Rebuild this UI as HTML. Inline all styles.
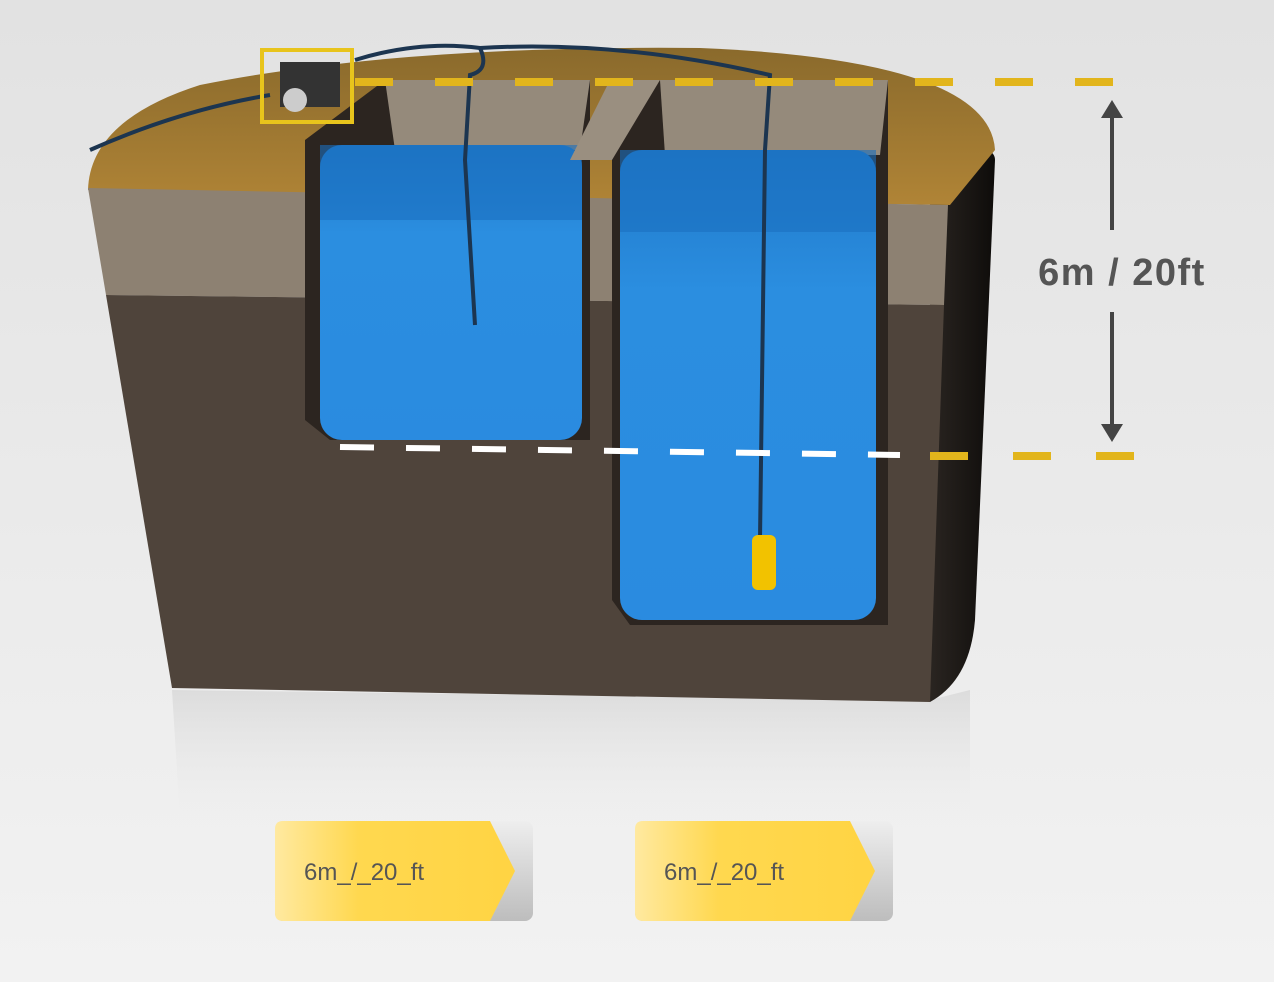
<!DOCTYPE html>
<html><head><meta charset="utf-8"><style>
html,body{margin:0;padding:0;width:1274px;height:982px;overflow:hidden;background:#ececec;font-family:"Liberation Sans",sans-serif}
</style></head><body>
<svg width="1274" height="982" viewBox="0 0 1274 982" xmlns="http://www.w3.org/2000/svg">
<defs>
<linearGradient id="bg" x1="0" y1="0" x2="0" y2="1"><stop offset="0" stop-color="#e2e2e2"/><stop offset="1" stop-color="#f2f2f2"/></linearGradient>
<linearGradient id="side" x1="0" y1="0" x2="1" y2="0"><stop offset="0" stop-color="#2a2521"/><stop offset="1" stop-color="#0e0c0a"/></linearGradient>
<linearGradient id="top" x1="0" y1="0" x2="0" y2="1"><stop offset="0" stop-color="#8a6a2c"/><stop offset="1" stop-color="#b08436"/></linearGradient>
<linearGradient id="water" x1="0" y1="0" x2="0" y2="1"><stop offset="0" stop-color="#1f78c8"/><stop offset="0.3" stop-color="#2b8ee0"/><stop offset="1" stop-color="#2a8be0"/></linearGradient>
<linearGradient id="btn" x1="0" y1="0" x2="1" y2="0"><stop offset="0" stop-color="#ffe9a0"/><stop offset="0.35" stop-color="#ffd84f"/><stop offset="1" stop-color="#ffd443"/></linearGradient>
<linearGradient id="tail" x1="0" y1="0" x2="0" y2="1"><stop offset="0" stop-color="#eeeeee"/><stop offset="1" stop-color="#bdbdbd"/></linearGradient>
<linearGradient id="refl" x1="0" y1="0" x2="0" y2="1"><stop offset="0" stop-color="#dcdcdc"/><stop offset="1" stop-color="#ececec" stop-opacity="0"/></linearGradient>
</defs>
<rect width="1274" height="982" fill="url(#bg)"/>
<path d="M172 690 L930 700 L970 690 L970 820 L180 820Z" fill="url(#refl)"/>
<path d="M930 150 Q995 140 995 160 L975 620 Q970 680 930 702 Z" fill="url(#side)"/>
<path d="M88 190 Q90 120 200 85 Q400 45 700 48 Q990 60 995 150 L950 205 L88 190Z" fill="url(#top)"/>
<path d="M88 188 L948 205 L944 305 L106 295Z" fill="#8d8172"/>
<path d="M106 295 L944 305 L930 702 L172 688Z" fill="#4f443b"/>
<path d="M305 140 L385 80 L590 80 L590 440 L330 440 L305 420Z" fill="#2c2520"/>
<path d="M385 80 L590 80 L580 150 L395 150Z" fill="#958a7b"/>
<rect x="320" y="145" width="262" height="295" rx="22" fill="url(#water)"/>
<path d="M320 145 L582 145 L582 220 L320 220Z" fill="#1b6fc0" opacity="0.6"/>
<path d="M570 160 L610 80 L660 80 L615 160Z" fill="#9a8f80"/>
<path d="M612 160 L660 80 L888 80 L888 625 L630 625 L612 600Z" fill="#2c2520"/>
<path d="M660 80 L888 80 L880 155 L665 155Z" fill="#958a7b"/>
<rect x="620" y="150" width="256" height="470" rx="22" fill="url(#water)"/>
<path d="M620 150 L876 150 L876 232 L620 232Z" fill="#1b6fc0" opacity="0.6"/>
<path d="M355 60 Q420 40 480 48 Q490 70 470 75 L465 160 L475 325" fill="none" stroke="#1c3550" stroke-width="4"/>
<path d="M480 48 Q620 40 770 75 L765 150 L760 540" fill="none" stroke="#1c3550" stroke-width="4"/>
<path d="M90 150 Q180 110 270 95" fill="none" stroke="#1c3550" stroke-width="4"/>
<rect x="262" y="50" width="90" height="72" fill="none" stroke="#e8c41c" stroke-width="4"/>
<rect x="280" y="62" width="60" height="45" fill="#333"/>
<circle cx="295" cy="100" r="12" fill="#ccc"/>
<rect x="752" y="535" width="24" height="55" rx="6" fill="#f2c200"/>
<line x1="355" y1="82" x2="1135" y2="82" stroke="#e2b51c" stroke-width="8" stroke-dasharray="38 42"/>
<line x1="340" y1="447" x2="900" y2="455" stroke="#ffffff" stroke-width="6" stroke-dasharray="34 32"/>
<line x1="930" y1="456" x2="1135" y2="456" stroke="#e2b51c" stroke-width="8" stroke-dasharray="38 45"/>
<line x1="1112" y1="108" x2="1112" y2="230" stroke="#444" stroke-width="4"/>
<path d="M1101 118 L1112 100 L1123 118Z" fill="#444"/>
<line x1="1112" y1="312" x2="1112" y2="432" stroke="#444" stroke-width="4"/>
<path d="M1101 424 L1112 442 L1123 424Z" fill="#444"/>
<text x="1122" y="285" text-anchor="middle" font-size="38" font-weight="bold" letter-spacing="1.5" fill="#555" font-family="Liberation Sans, sans-serif">6m / 20ft</text>
<g>
<rect x="275" y="821" width="258" height="100" rx="8" fill="url(#tail)"/>
<path d="M283 821 L490 821 L515 871 L490 921 L283 921 Q275 921 275 913 L275 829 Q275 821 283 821Z" fill="url(#btn)"/>
<text x="304" y="880" font-size="24" fill="#555">6m_/_20_ft</text>
</g>
<g>
<rect x="635" y="821" width="258" height="100" rx="8" fill="url(#tail)"/>
<path d="M643 821 L850 821 L875 871 L850 921 L643 921 Q635 921 635 913 L635 829 Q635 821 643 821Z" fill="url(#btn)"/>
<text x="664" y="880" font-size="24" fill="#555">6m_/_20_ft</text>
</g>
</svg>
</body></html>
